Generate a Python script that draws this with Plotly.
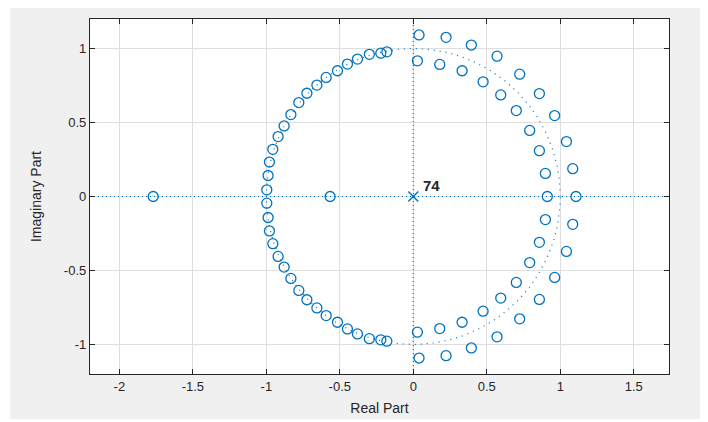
import numpy as np
import plotly.graph_objects as go

# Zeros: upper half-plane values; conjugates are mirrored
arc_re = [-0.180, -0.221, -0.299, -0.380, -0.448, -0.516, -0.593, -0.656, -0.724,
          -0.779, -0.833, -0.879, -0.920, -0.956, -0.979, -0.988, -0.997]
arc_im = [0.978, 0.969, 0.961, 0.929, 0.895, 0.850, 0.805, 0.753, 0.698,
          0.635, 0.554, 0.477, 0.405, 0.319, 0.233, 0.142, 0.045]
outer_re = [0.039, 0.223, 0.395, 0.570, 0.724, 0.858, 0.962, 1.042, 1.085]
outer_im = [1.092, 1.076, 1.024, 0.949, 0.827, 0.696, 0.547, 0.371, 0.188]
inner_re = [0.028, 0.180, 0.332, 0.475, 0.595, 0.701, 0.792, 0.858, 0.899]
inner_im = [0.917, 0.893, 0.850, 0.775, 0.687, 0.581, 0.447, 0.310, 0.156]
real_zeros = [-1.770, -0.566, 0.912, 1.107]

pole_re = [0.0]
pole_im = [0.0]
pole_mult = "74"

x_ticks = [-2, -1.5, -1, -0.5, 0, 0.5, 1, 1.5]
x_ticklabels = ["-2", "-1.5", "-1", "-0.5", "0", "0.5", "1", "1.5"]
y_ticks = [-1, -0.5, 0, 0.5, 1]
y_ticklabels = ["-1", "-0.5", "0", "0.5", "1"]

x_range = [-2.2, 1.74]
y_range = [-1.2, 1.2]

BLUE = "#0072BD"
W, H = 708, 422
OFF = 8  # page body margin in the browser
L, T = 90 - OFF, 19 - OFF
PW, PH = 579, 355
R, B = W - L - PW, H - T - PH

upper_re = arc_re + outer_re + inner_re
upper_im = arc_im + outer_im + inner_im
z_re = upper_re + upper_re + real_zeros
z_im = upper_im + [-v for v in upper_im] + [0.0] * len(real_zeros)

theta = np.linspace(0, 2 * np.pi, 400)

fig = go.Figure()


def px_x(p):
    return (p - OFF - L) / PW


def px_y(p):
    return (H - B - (p - OFF)) / PH


# white page border around the gray figure area (screen pixel coordinates)
for (xa, xb, ya, yb) in [(0, 10, 0, H + OFF), (700, W + OFF, 0, H + OFF),
                         (0, W + OFF, 0, 6), (0, W + OFF, 419, H + OFF)]:
    fig.add_shape(type="rect", xref="paper", yref="paper",
                  x0=px_x(xa), x1=px_x(xb), y0=px_y(yb), y1=px_y(ya),
                  fillcolor="white", line=dict(width=0), layer="above")

# axis lines
dotted = dict(color=BLUE, width=1.2, dash="1px,3px")
fig.add_trace(go.Scatter(x=x_range, y=[0, 0], mode="lines", line=dotted,
                         hoverinfo="skip", showlegend=False))
fig.add_trace(go.Scatter(x=[0, 0], y=y_range, mode="lines", line=dotted,
                         hoverinfo="skip", showlegend=False))
# unit circle
fig.add_trace(go.Scatter(x=np.cos(theta), y=np.sin(theta), mode="lines",
                         line=dict(color=BLUE, width=1.2, dash="1px,5px"),
                         hoverinfo="skip", showlegend=False))
# zeros
fig.add_trace(go.Scatter(x=z_re, y=z_im, mode="markers",
                         marker=dict(symbol="circle-open", size=10,
                                     color=BLUE, line=dict(width=1.3, color=BLUE)),
                         showlegend=False))
# poles
fig.add_trace(go.Scatter(x=pole_re, y=pole_im, mode="markers",
                         marker=dict(symbol="x-thin-open", size=10,
                                     color=BLUE, line=dict(width=1.4, color=BLUE)),
                         showlegend=False))

fig.add_annotation(x=pole_re[0] + 0.055, y=pole_im[0] + 0.005, text="<b>" + pole_mult + "</b>",
                   showarrow=False, xanchor="left", yanchor="bottom",
                   font=dict(family="Liberation Sans", size=15, color="#262626"))

axis_common = dict(showgrid=True, gridcolor="#dedede", gridwidth=1,
                   zeroline=False, showline=True, linecolor="#262626",
                   linewidth=1.3, mirror="ticks", ticks="inside", ticklen=5,
                   tickcolor="#262626", tickwidth=1.3, automargin=False,
                   tickfont=dict(family="Liberation Sans", size=13, color="#262626"))

fig.update_xaxes(range=x_range, tickvals=x_ticks, ticktext=x_ticklabels,
                 title=dict(text="Real Part", standoff=10,
                            font=dict(family="Liberation Sans", size=14, color="#262626")),
                 **axis_common)
fig.update_yaxes(range=y_range, tickvals=y_ticks, ticktext=y_ticklabels,
                 title=dict(text="Imaginary Part", standoff=18,
                            font=dict(family="Liberation Sans", size=14, color="#262626")),
                 **axis_common)

fig.update_layout(width=W, height=H,
                  margin=dict(l=L, r=R, t=T, b=B),
                  paper_bgcolor="#f0f0f0", plot_bgcolor="white")

fig.write_html("out.html")
